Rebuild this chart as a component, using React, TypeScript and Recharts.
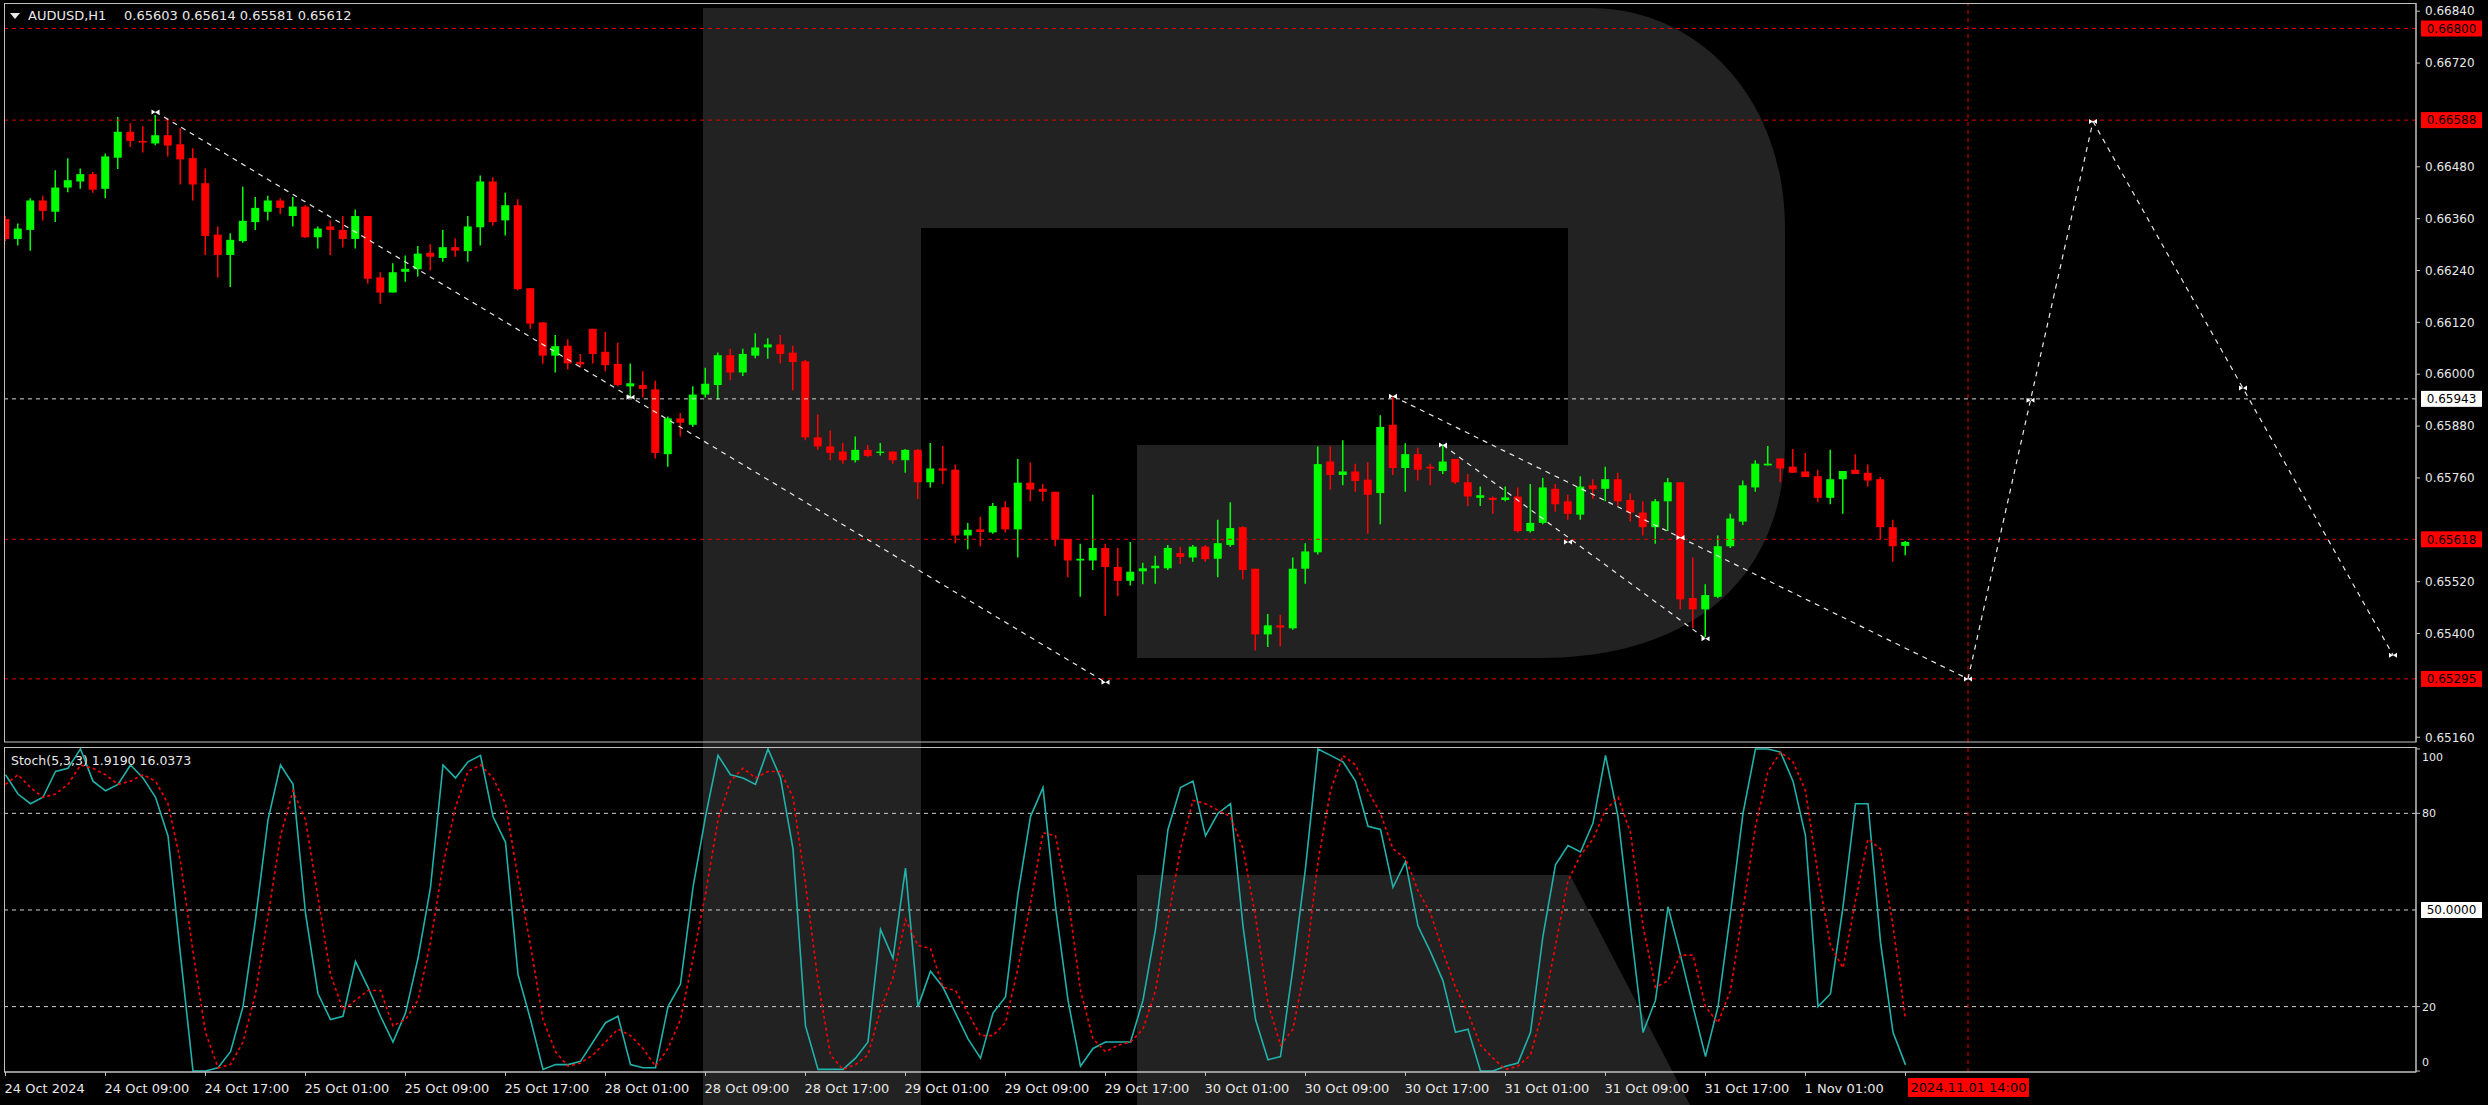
import React from 'react';
import { ComposedChart, Bar, Line, XAxis, YAxis, ReferenceLine, ReferenceDot } from 'recharts';

// AUDUSD H1 candles, 24 Oct 01:00 .. 1 Nov 09:00
const opens = [
  0.66359, 0.66313, 0.66334, 0.66402, 0.66376, 0.66432, 0.66446, 0.66463, 0.66429, 0.66501,
  0.66561, 0.66540, 0.66534, 0.66553, 0.66532, 0.66500, 0.66442, 0.66323, 0.66276, 0.66308,
  0.66352, 0.66376, 0.66402, 0.66366, 0.66388, 0.66317, 0.66342, 0.66334, 0.66313, 0.66366,
  0.66224, 0.66189, 0.66237, 0.66243, 0.66281, 0.66269, 0.66294, 0.66285, 0.66340, 0.66446,
  0.66356, 0.66391, 0.66199, 0.66120, 0.66043, 0.66066, 0.66028, 0.66105, 0.66052, 0.66024,
  0.65972, 0.65975, 0.65965, 0.65815, 0.65898, 0.65883, 0.65953, 0.65975, 0.66044, 0.66004,
  0.66043, 0.66062, 0.66069, 0.66050, 0.66030, 0.65854, 0.65833, 0.65821, 0.65801, 0.65825,
  0.65818, 0.65821, 0.65801, 0.65825, 0.65750, 0.65782, 0.65779, 0.65627, 0.65641, 0.65634,
  0.65692, 0.65641, 0.65749, 0.65735, 0.65728, 0.65619, 0.65569, 0.65569, 0.65598, 0.65554,
  0.65522, 0.65544, 0.65551, 0.65551, 0.65586, 0.65576, 0.65601, 0.65573, 0.65605, 0.65646,
  0.65550, 0.65398, 0.65419, 0.65412, 0.65550, 0.65588, 0.65798, 0.65767, 0.65775, 0.65756,
  0.65725, 0.65883, 0.65783, 0.65815, 0.65786, 0.65776, 0.65804, 0.65750, 0.65714, 0.65714,
  0.65709, 0.65717, 0.65637, 0.65656, 0.65735, 0.65706, 0.65675, 0.65743, 0.65735, 0.65757,
  0.65709, 0.65680, 0.65646, 0.65706, 0.65750, 0.65482, 0.65456, 0.65485, 0.65602, 0.65659,
  0.65738, 0.65789, 0.65805, 0.65786, 0.65775, 0.65764, 0.65714, 0.65757, 0.65779, 0.65772,
  0.65757, 0.65646, 0.65603,
];
const highs = [
  0.66366, 0.66349, 0.66407, 0.66413, 0.66472, 0.66500, 0.66476, 0.66468, 0.66511, 0.66595,
  0.66581, 0.66574, 0.66600, 0.66591, 0.66569, 0.66523, 0.66476, 0.66342, 0.66326, 0.66434,
  0.66410, 0.66413, 0.66407, 0.66410, 0.66391, 0.66342, 0.66356, 0.66366, 0.66381, 0.66366,
  0.66236, 0.66257, 0.66275, 0.66297, 0.66301, 0.66334, 0.66314, 0.66366, 0.66460, 0.66456,
  0.66420, 0.66405, 0.66199, 0.66120, 0.66091, 0.66081, 0.66047, 0.66105, 0.66098, 0.66073,
  0.66025, 0.66007, 0.65985, 0.65902, 0.65910, 0.65972, 0.66015, 0.66050, 0.66059, 0.66059,
  0.66095, 0.66083, 0.66091, 0.66066, 0.66033, 0.65907, 0.65870, 0.65841, 0.65856, 0.65837,
  0.65841, 0.65822, 0.65827, 0.65827, 0.65841, 0.65834, 0.65791, 0.65656, 0.65670, 0.65702,
  0.65706, 0.65804, 0.65796, 0.65746, 0.65728, 0.65619, 0.65608, 0.65721, 0.65608, 0.65598,
  0.65612, 0.65564, 0.65580, 0.65605, 0.65601, 0.65605, 0.65605, 0.65663, 0.65704, 0.65648,
  0.65550, 0.65445, 0.65443, 0.65576, 0.65609, 0.65833, 0.65833, 0.65847, 0.65793, 0.65796,
  0.65905, 0.65950, 0.65840, 0.65830, 0.65793, 0.65837, 0.65804, 0.65769, 0.65740, 0.65717,
  0.65740, 0.65738, 0.65746, 0.65760, 0.65746, 0.65721, 0.65764, 0.65757, 0.65786, 0.65772,
  0.65724, 0.65706, 0.65711, 0.65760, 0.65750, 0.65576, 0.65514, 0.65627, 0.65677, 0.65754,
  0.65801, 0.65834, 0.65805, 0.65827, 0.65818, 0.65779, 0.65825, 0.65776, 0.65815, 0.65791,
  0.65762, 0.65663, 0.65614,
];
const lows = [
  0.66308, 0.66298, 0.66286, 0.66356, 0.66352, 0.66421, 0.66429, 0.66420, 0.66407, 0.66475,
  0.66526, 0.66513, 0.66530, 0.66504, 0.66439, 0.66402, 0.66276, 0.66224, 0.66202, 0.66304,
  0.66334, 0.66356, 0.66371, 0.66342, 0.66315, 0.66291, 0.66276, 0.66294, 0.66291, 0.66210,
  0.66163, 0.66189, 0.66214, 0.66226, 0.66240, 0.66260, 0.66272, 0.66260, 0.66298, 0.66344,
  0.66321, 0.66194, 0.66105, 0.66024, 0.66004, 0.66011, 0.66015, 0.66025, 0.66007, 0.65972,
  0.65946, 0.65946, 0.65805, 0.65786, 0.65856, 0.65878, 0.65946, 0.65941, 0.65986, 0.65996,
  0.66037, 0.66036, 0.66025, 0.65963, 0.65847, 0.65825, 0.65801, 0.65793, 0.65796, 0.65808,
  0.65812, 0.65793, 0.65772, 0.65711, 0.65738, 0.65746, 0.65609, 0.65595, 0.65602, 0.65631,
  0.65634, 0.65576, 0.65706, 0.65706, 0.65602, 0.65530, 0.65485, 0.65547, 0.65441, 0.65486,
  0.65511, 0.65514, 0.65515, 0.65547, 0.65561, 0.65566, 0.65566, 0.65530, 0.65601, 0.65525,
  0.65361, 0.65369, 0.65370, 0.65409, 0.65515, 0.65583, 0.65733, 0.65743, 0.65728, 0.65631,
  0.65653, 0.65767, 0.65728, 0.65754, 0.65743, 0.65769, 0.65746, 0.65695, 0.65695, 0.65677,
  0.65706, 0.65634, 0.65634, 0.65653, 0.65682, 0.65663, 0.65663, 0.65711, 0.65706, 0.65696,
  0.65659, 0.65627, 0.65608, 0.65637, 0.65456, 0.65412, 0.65392, 0.65482, 0.65598, 0.65651,
  0.65728, 0.65789, 0.65750, 0.65772, 0.65762, 0.65704, 0.65699, 0.65677, 0.65769, 0.65740,
  0.65617, 0.65566, 0.65581,
];
const closes = [
  0.66313, 0.66337, 0.66402, 0.66378, 0.66432, 0.66449, 0.66463, 0.66427, 0.66504, 0.66561,
  0.66540, 0.66536, 0.66553, 0.66529, 0.66497, 0.66439, 0.66320, 0.66276, 0.66311, 0.66355,
  0.66385, 0.66402, 0.66385, 0.66388, 0.66317, 0.66337, 0.66334, 0.66313, 0.66366, 0.66221,
  0.66189, 0.66236, 0.66244, 0.66279, 0.66272, 0.66294, 0.66286, 0.66342, 0.66446, 0.66352,
  0.66391, 0.66197, 0.66117, 0.66043, 0.66065, 0.66025, 0.66023, 0.66047, 0.66021, 0.65975,
  0.65979, 0.65966, 0.65818, 0.65898, 0.65888, 0.65953, 0.65978, 0.66044, 0.66004, 0.66047,
  0.66062, 0.66069, 0.66047, 0.66028, 0.65854, 0.65833, 0.65818, 0.65801, 0.65825, 0.65811,
  0.65821, 0.65801, 0.65825, 0.65750, 0.65782, 0.65777, 0.65627, 0.65640, 0.65635, 0.65695,
  0.65641, 0.65749, 0.65733, 0.65728, 0.65617, 0.65569, 0.65573, 0.65598, 0.65554, 0.65522,
  0.65543, 0.65551, 0.65557, 0.65598, 0.65577, 0.65601, 0.65572, 0.65609, 0.65644, 0.65547,
  0.65398, 0.65419, 0.65414, 0.65550, 0.65590, 0.65792, 0.65767, 0.65775, 0.65753, 0.65721,
  0.65878, 0.65783, 0.65815, 0.65779, 0.65782, 0.65798, 0.65750, 0.65717, 0.65720, 0.65709,
  0.65715, 0.65637, 0.65656, 0.65738, 0.65699, 0.65677, 0.65740, 0.65734, 0.65757, 0.65706,
  0.65680, 0.65646, 0.65706, 0.65750, 0.65479, 0.65456, 0.65489, 0.65602, 0.65666, 0.65743,
  0.65793, 0.65793, 0.65782, 0.65772, 0.65762, 0.65714, 0.65757, 0.65776, 0.65769, 0.65754,
  0.65646, 0.65602, 0.65612,
];

// Stochastic(5,3,3): main (%K) and signal (%D)
const stochK = [
  92, 86, 83, 85, 93, 94, 100, 90, 87, 89,
  95, 91, 85, 73, 36, 0, 0, 1, 6, 20,
  47, 78, 95, 89, 49, 24, 16, 17, 34, 26,
  17, 9, 18, 35, 57, 95, 91, 96, 98, 79,
  71, 30, 16, 0.5, 2, 2, 3, 9, 15, 17,
  2, 1, 1, 20, 27, 57, 79, 98, 92, 91,
  89, 100, 91, 69, 14, 0.5, 0.5, 0.5, 4, 9,
  44, 35, 63, 20, 31, 26, 18, 10, 4, 18,
  23, 55, 79, 88, 51, 22, 1.5, 7, 9, 9,
  9, 22, 44, 75, 88, 90, 73, 80, 83, 45,
  16, 3.5, 4.5, 32, 63, 100, 98, 96, 90, 76,
  75, 57, 65, 45, 37, 28, 12, 13, 0, 0,
  1.5, 2.5, 12, 42, 64, 70, 68, 77, 98, 79,
  45, 12, 22, 51, 36, 20, 4.5, 20, 49, 80,
  100, 100, 99, 90, 73, 20, 24, 51, 83, 83,
  40, 12, 1.919,
];
const stochD = [
  89, 92, 88, 85, 86, 89, 95, 94, 92, 89,
  90, 92, 90, 83, 65, 37, 12, 1, 2, 9,
  24, 48, 73, 87, 78, 54, 30, 19, 22, 25,
  25, 14, 16, 22, 40, 64, 82, 93, 95, 91,
  83, 60, 39, 16, 6, 1.5, 2.5, 5, 9, 13,
  11, 7, 1.5, 7, 16, 35, 55, 78, 90, 94,
  91, 93, 93, 85, 58, 28, 5, 0.5, 2, 5,
  19, 29, 47, 39, 38, 26, 25, 18, 11, 11,
  15, 32, 52, 74, 73, 54, 25, 10, 6, 8,
  9, 13, 25, 47, 69, 84, 83, 81, 79, 69,
  48, 21, 8, 13, 33, 65, 87, 98, 95, 87,
  80, 69, 66, 56, 49, 37, 26, 18, 8, 4,
  0.5, 1.5, 5, 19, 39, 59, 67, 72, 81, 85,
  74, 45, 26, 28, 36, 36, 20, 15, 25, 50,
  76, 93, 99, 96, 87, 61, 39, 32, 53, 72,
  69, 45, 16.0373,
];

// one label every 8 bars
const timeLabels = [
  '24 Oct 2024', '24 Oct 09:00', '24 Oct 17:00', '25 Oct 01:00', '25 Oct 09:00',
  '25 Oct 17:00', '28 Oct 01:00', '28 Oct 09:00', '28 Oct 17:00', '29 Oct 01:00',
  '29 Oct 09:00', '29 Oct 17:00', '30 Oct 01:00', '30 Oct 09:00', '30 Oct 17:00',
  '31 Oct 01:00', '31 Oct 09:00', '31 Oct 17:00', '1 Nov 01:00',
];

const priceTicks = [
  0.6684, 0.6672, 0.6648, 0.6636, 0.6624, 0.6612, 0.66, 0.6588, 0.6576, 0.6552, 0.654, 0.6516,
];
const redLevels = [0.668, 0.66588, 0.65618, 0.65295];
const whiteLevels = [0.65943];
const stochLevels = [80, 50, 20];
const stochTicks = [0, 20, 80, 100];

const trendLines = [
  { x1: 12, y1: 0.66607, x2: 88, y2: 0.65287 },
  { x1: 111, y1: 0.65949, x2: 157, y2: 0.65295 },
  { x1: 115, y1: 0.65836, x2: 136, y2: 0.65388 },
  { x1: 157, y1: 0.65295, x2: 167, y2: 0.66585 },
  { x1: 167, y1: 0.66585, x2: 191, y2: 0.6535 },
];
const lineMarkers = [
  { x: 12, y: 0.66607 }, { x: 50, y: 0.65947 }, { x: 88, y: 0.65287 },
  { x: 111, y: 0.65949 }, { x: 134, y: 0.65622 }, { x: 115, y: 0.65836 },
  { x: 125, y: 0.65612 }, { x: 136, y: 0.65388 }, { x: 157, y: 0.65295 },
  { x: 162, y: 0.6594 }, { x: 167, y: 0.66585 }, { x: 179, y: 0.65968 },
  { x: 191, y: 0.6535 },
];
const forecastIdx = 157;
const forecastLabel = '2024.11.01 14:00';

const FONT = '"DejaVu Sans", Verdana, sans-serif';
const X_DOMAIN: [number, number] = [-0.12, 192.84];
const AXIS = '#c0c0c0';
const TXT = '#e8e8e8';

const candles = opens.map((o, i) => ({
  idx: i,
  open: o,
  high: highs[i],
  low: lows[i],
  close: closes[i],
  range: [lows[i], highs[i]],
}));
const stochRows = stochK.map((k, i) => ({ idx: i, k, d: stochD[i] }));
const timeTicks = [...timeLabels.map((_, i) => i * 8), 152];

function Candle(props: any) {
  const { x, y, width, height, payload } = props;
  if (!payload || height == null) return null;
  const { open, close, high, low } = payload;
  const color = close >= open ? '#00ff00' : '#ff0000';
  const top = Math.min(y, y + height);
  const h = Math.abs(height);
  const ppu = h / (high - low);
  const yOf = (v: number) => top + (high - v) * ppu;
  const cx = x + width / 2;
  const bTop = yOf(Math.max(open, close));
  const bBot = yOf(Math.min(open, close));
  return (
    <g>
      <line x1={cx} x2={cx} y1={top} y2={top + h} stroke={color} strokeWidth={1.5} />
      <rect x={x} y={bTop} width={width} height={Math.max(bBot - bTop, 1.3)} fill={color} />
    </g>
  );
}

function Marker(props: any) {
  const { cx, cy } = props;
  return (
    <path
      d={`M${cx - 4},${cy - 2.5} L${cx + 4},${cy + 2.5} L${cx + 4},${cy - 2.5} L${cx - 4},${cy + 2.5} Z`}
      fill="#ffffff"
    />
  );
}

function SideTag({ viewBox, text, bg }: any) {
  if (!viewBox) return null;
  const left = viewBox.x + viewBox.width + 5;
  return (
    <g>
      <rect x={left} y={viewBox.y - 8} width={61} height={16} fill={bg} />
      <text x={left + 30.5} y={viewBox.y} dy="0.36em" textAnchor="middle" fontSize={12} fontFamily={FONT} fill="#000">
        {text}
      </text>
    </g>
  );
}

function TimeTag({ viewBox }: any) {
  if (!viewBox) return null;
  const bottom = viewBox.y + viewBox.height;
  return (
    <g>
      <rect x={viewBox.x - 60} y={bottom + 6} width={121} height={19} fill="#ff0000" />
      <text x={viewBox.x + 0.5} y={bottom + 20} textAnchor="middle" fontSize={13} fontFamily={FONT} fill="#000">
        {forecastLabel}
      </text>
    </g>
  );
}

function TimeTick(props: any) {
  const { x, y, payload } = props;
  const label = timeLabels[payload.value / 8] ?? '';
  return (
    <text x={x - 1} y={y} dy={15} textAnchor="start" fontSize={13} fontFamily={FONT} fill={TXT}>
      {label}
    </text>
  );
}

function StochTick(props: any) {
  const { x, y, payload } = props;
  const v = payload.value;
  const off = v === 100 ? 8 : v === 0 ? -9 : 0;
  return (
    <text x={x} y={y + off} dy="0.36em" textAnchor="start" fontSize={11} fontFamily={FONT} fill={TXT}>
      {v}
    </text>
  );
}

export default function App() {
  const last = candles[candles.length - 1];
  const header = `${last.open.toFixed(5)} ${last.high.toFixed(5)} ${last.low.toFixed(5)} ${last.close.toFixed(5)}`;
  const stochTitle = `Stoch(5,3,3) ${stochK[stochK.length - 1].toFixed(4)} ${stochD[stochD.length - 1].toFixed(4)}`;

  return (
    <div style={{ position: 'absolute', left: 0, top: 0, width: 2488, height: 1105, background: '#000', overflow: 'hidden' }}>
      {/* watermark */}
      <svg width={2488} height={1105} style={{ position: 'absolute', left: 0, top: 0 }}>
        <path
          d="M703,8 L1590,8 C1700,8 1785,100 1785,228 L1785,442 C1785,580 1690,658 1540,658 L1137,658 L1137,445 L1568,445 L1568,228 L921,228 L921,1105 L703,1105 Z"
          fill="#222222"
        />
        <path d="M1137,875 L1570,875 L1690,1105 L1137,1105 Z" fill="#222222" />
      </svg>

      <div style={{ position: 'absolute', left: 0, top: 0 }}>
        <ComposedChart width={2488} height={745} data={candles} margin={{ top: 3, right: 0, bottom: 3, left: 4 }}>
          <XAxis type="number" dataKey="idx" domain={X_DOMAIN} allowDataOverflow hide />
          <YAxis
            orientation="right"
            width={72}
            domain={[0.65149, 0.66859]}
            allowDataOverflow
            ticks={priceTicks}
            interval={0}
            tickFormatter={(v: number) => v.toFixed(5)}
            tick={{ fill: TXT, fontSize: 12, fontFamily: FONT }}
            tickSize={4}
            tickMargin={5}
            tickLine={{ stroke: AXIS }}
            axisLine={{ stroke: AXIS }}
          />
          {redLevels.map((v) => (
            <ReferenceLine
              key={`r${v}`}
              y={v}
              stroke="#e00000"
              strokeDasharray="4 4"
              label={(p: any) => <SideTag viewBox={p.viewBox} text={v.toFixed(5)} bg="#ff0000" />}
            />
          ))}
          {whiteLevels.map((v) => (
            <ReferenceLine
              key={`w${v}`}
              y={v}
              stroke="#d8d8d8"
              strokeDasharray="4 4"
              label={(p: any) => <SideTag viewBox={p.viewBox} text={v.toFixed(5)} bg="#ffffff" />}
            />
          ))}
          <ReferenceLine x={forecastIdx} stroke="#e00000" strokeDasharray="4 4" />
          <Bar dataKey="range" barSize={8} shape={Candle} isAnimationActive={false} />
          {trendLines.map((t, i) => (
            <ReferenceLine
              key={`t${i}`}
              segment={[{ x: t.x1, y: t.y1 }, { x: t.x2, y: t.y2 }]}
              stroke="#e8e8e8"
              strokeWidth={1.2}
              strokeDasharray="5 5"
            />
          ))}
          {lineMarkers.map((m, i) => (
            <ReferenceDot key={`m${i}`} x={m.x} y={m.y} r={3} shape={Marker} />
          ))}
        </ComposedChart>
      </div>

      <div style={{ position: 'absolute', left: 0, top: 744 }}>
        <ComposedChart width={2488} height={361} data={stochRows} margin={{ top: 3, right: 0, bottom: 0, left: 4 }}>
          <XAxis
            type="number"
            dataKey="idx"
            domain={X_DOMAIN}
            allowDataOverflow
            ticks={timeTicks}
            interval={0}
            height={33}
            tick={TimeTick}
            tickSize={4}
            tickLine={{ stroke: AXIS }}
            axisLine={{ stroke: AXIS }}
          />
          <YAxis
            orientation="right"
            width={72}
            domain={[-0.3, 100.6]}
            allowDataOverflow
            ticks={stochTicks}
            interval={0}
            tick={StochTick}
            tickSize={4}
            tickMargin={2}
            tickLine={{ stroke: AXIS }}
            axisLine={{ stroke: AXIS }}
          />
          {stochLevels.map((v) => (
            <ReferenceLine
              key={`s${v}`}
              y={v}
              stroke="#d0d0d0"
              strokeDasharray="4 4"
              label={
                v === 50
                  ? (p: any) => <SideTag viewBox={p.viewBox} text={v.toFixed(4)} bg="#ffffff" />
                  : undefined
              }
            />
          ))}
          <ReferenceLine
            x={forecastIdx}
            stroke="#e00000"
            strokeDasharray="4 4"
            label={(p: any) => <TimeTag viewBox={p.viewBox} />}
          />
          <Line type="linear" dataKey="k" stroke="#20b2aa" strokeWidth={1.6} dot={false} isAnimationActive={false} />
          <Line
            type="linear"
            dataKey="d"
            stroke="#ff0000"
            strokeWidth={1.6}
            strokeDasharray="3 3"
            dot={false}
            isAnimationActive={false}
          />
        </ComposedChart>
      </div>

      {/* panel frames and captions */}
      <svg width={2488} height={1105} style={{ position: 'absolute', left: 0, top: 0, pointerEvents: 'none' }}>
        <rect x={4.5} y={3.5} width={2411.5} height={738.5} fill="none" stroke={AXIS} />
        <rect x={4.5} y={747.5} width={2411.5} height={324.5} fill="none" stroke={AXIS} />
        <polygon points="10,13 20,13 15,19" fill={TXT} />
        <text x={28} y={20} fontSize={13} fontFamily={FONT} fill={TXT}>AUDUSD,H1</text>
        <text x={124} y={20} fontSize={13} fontFamily={FONT} fill={TXT}>{header}</text>
        <text x={11} y={765} fontSize={12.5} fontFamily={FONT} fill={TXT}>{stochTitle}</text>
      </svg>
    </div>
  );
}
